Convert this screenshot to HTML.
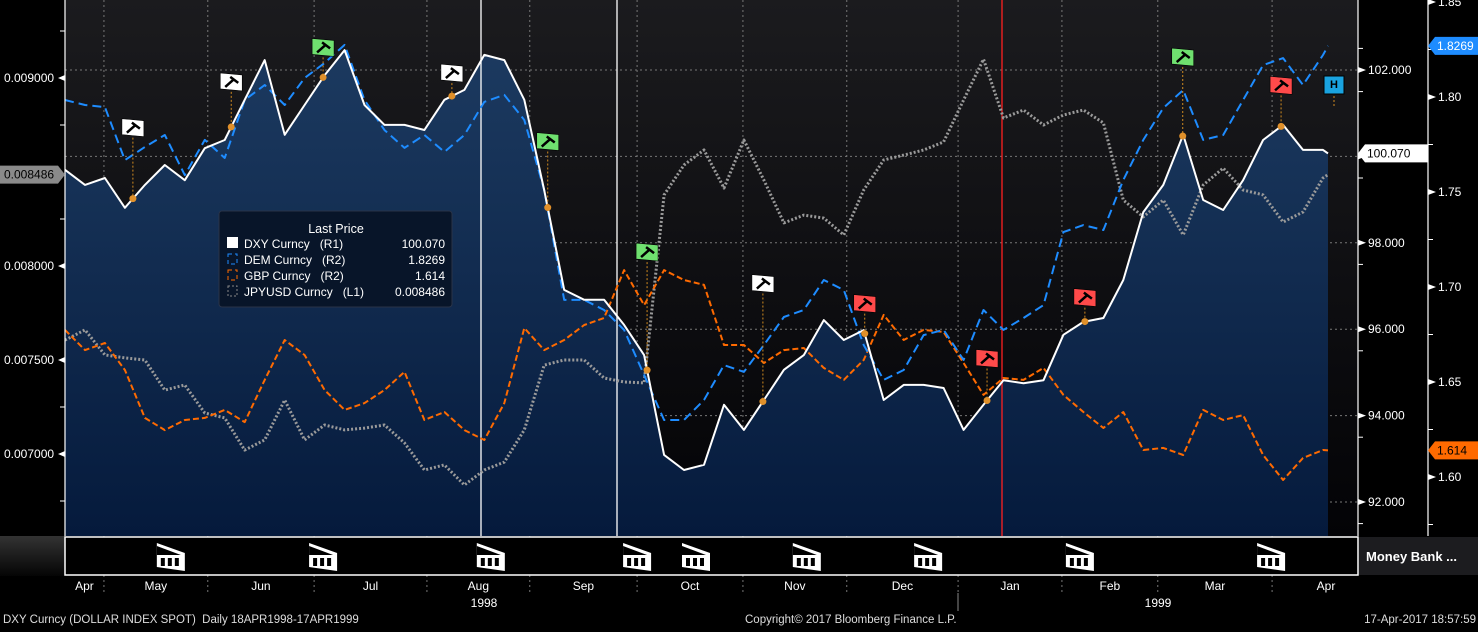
<!DOCTYPE html>
<html><head><meta charset="utf-8">
<style>
html,body{margin:0;padding:0;background:#000;}
body{width:1478px;height:627px;overflow:hidden;font-family:"Liberation Sans",sans-serif;}
svg text{font-family:"Liberation Sans",sans-serif;}
</style></head>
<body>
<svg id="chart" width="1478" height="627" viewBox="0 0 1478 627" xmlns="http://www.w3.org/2000/svg">
<defs>
<linearGradient id="bg" x1="0" y1="0" x2="0" y2="1"><stop offset="0" stop-color="#1b1b1e"/><stop offset="1" stop-color="#030306"/></linearGradient>
<linearGradient id="fill" x1="0" y1="0" x2="0" y2="1"><stop offset="0" stop-color="#1c3a60"/><stop offset="1" stop-color="#051a3c"/></linearGradient>
<linearGradient id="lbg" x1="0" y1="0" x2="0" y2="1"><stop offset="0" stop-color="#333"/><stop offset="1" stop-color="#050505"/></linearGradient>
</defs>
<rect x="0" y="0" width="1478" height="627" fill="#000"/>
<rect x="65" y="0" width="1293" height="536" fill="url(#bg)"/>
<rect x="0" y="536" width="65" height="40" fill="url(#lbg)"/>
<g id="grid"></g>
<path id="area" fill="url(#fill)"/>
<g id="vlines"></g>
<g id="series"></g>
<g id="flags"></g>
<g id="axes"></g>
<g>
<rect x="219" y="211" width="233" height="96" rx="3" fill="#081426" fill-opacity="0.92" stroke="#2a3448"/>
<text x="336" y="233" fill="#fff" font-size="12.5" text-anchor="middle">Last Price</text>
<rect x="227" y="237" width="11" height="11" fill="#fff"/>
<text x="244" y="248" fill="#fff" font-size="12" xml:space="preserve">DXY Curncy   (R1)</text><text x="445" y="248" fill="#fff" font-size="12" text-anchor="end">100.070</text>
<rect x="228" y="254" width="9" height="10" fill="none" stroke="#1e8cff" stroke-dasharray="4,3"/>
<text x="244" y="264" fill="#fff" font-size="12" xml:space="preserve">DEM Curncy   (R2)</text><text x="445" y="264" fill="#fff" font-size="12" text-anchor="end">1.8269</text>
<rect x="228" y="270" width="9" height="10" fill="none" stroke="#ff6a00" stroke-dasharray="4,3"/>
<text x="244" y="280" fill="#fff" font-size="12" xml:space="preserve">GBP Curncy   (R2)</text><text x="445" y="280" fill="#fff" font-size="12" text-anchor="end">1.614</text>
<rect x="228" y="286" width="9" height="10" fill="none" stroke="#888" stroke-dasharray="2,2"/>
<text x="244" y="296" fill="#fff" font-size="12" xml:space="preserve">JPYUSD Curncy   (L1)</text><text x="445" y="296" fill="#fff" font-size="12" text-anchor="end">0.008486</text>
</g>
<g>
<rect x="65" y="537" width="1293" height="38" fill="#000" stroke="#fff" stroke-width="1.5"/>
<g id="icons"></g>
</g>
<rect x="1359" y="537" width="119" height="38" fill="#1c1c1f"/>
<text x="1366" y="561" fill="#fff" font-size="13" font-weight="bold">Money Bank ...</text>
<g id="xlabels"></g>
<text x="484" y="607" fill="#fff" font-size="12" text-anchor="middle">1998</text>
<text x="1158" y="607" fill="#fff" font-size="12" text-anchor="middle">1999</text>
<line x1="958" y1="593" x2="958" y2="611" stroke="#888"/>
<text x="3" y="623" fill="#ddd" font-size="11.5" xml:space="preserve">DXY Curncy (DOLLAR INDEX SPOT)  Daily 18APR1998-17APR1999</text>
<text x="745" y="623" fill="#ddd" font-size="11.5">Copyright© 2017 Bloomberg Finance L.P.</text>
<text x="1476" y="623" fill="#ddd" font-size="11.5" text-anchor="end">17-Apr-2017 18:57:59</text>
</svg>
<script>
const days=[0,4,8,12,16,20,24,28,32,36,40,44,48,52,56,60,64,68,72,76,80,84,88,92,96,100,104,108,112,116,120,124,128,132,136,140,144,148,152,156,160,164,168,172,176,180,184,188,192,196,200,204,208,212,216,220,224,228,232,236,240,244,248,252,253];
const dxy=[99.69,99.34,99.50,98.81,99.34,99.80,99.45,100.19,100.38,101.31,102.23,100.50,101.19,101.88,102.46,101.19,100.73,100.73,100.61,101.31,101.54,102.35,102.23,101.31,99.22,96.91,96.68,96.68,96.10,95.40,93.09,92.74,92.86,94.25,93.67,94.36,95.06,95.40,96.21,95.75,95.98,94.36,94.71,94.71,94.64,93.67,94.25,94.82,94.75,94.82,95.87,96.17,96.26,97.14,98.71,99.34,100.50,98.99,98.76,99.45,100.38,100.73,100.15,100.15,100.07];
const dem=[1.7984,1.7958,1.7947,1.7668,1.7737,1.7800,1.7589,1.7774,1.7679,1.7984,1.8063,1.7958,1.8100,1.8179,1.8274,1.7984,1.7826,1.7732,1.7800,1.7711,1.7800,1.7974,1.8011,1.7879,1.7511,1.6932,1.6932,1.6879,1.6774,1.6537,1.6300,1.6300,1.6405,1.6589,1.6553,1.6695,1.6842,1.6879,1.7037,1.6984,1.6695,1.6511,1.6563,1.6747,1.6774,1.6616,1.6879,1.6774,1.6837,1.6905,1.7289,1.7326,1.7300,1.7563,1.7774,1.7942,1.8037,1.7774,1.7800,1.7984,1.8168,1.8205,1.8063,1.8221,1.8269];
const gbp=[1.6774,1.6668,1.6705,1.6563,1.6311,1.6247,1.6300,1.6311,1.6353,1.6289,1.6511,1.6721,1.6642,1.6458,1.6353,1.6389,1.6458,1.6553,1.6300,1.6342,1.6247,1.6195,1.6389,1.6784,1.6668,1.6721,1.6800,1.6837,1.7089,1.6905,1.7089,1.7037,1.7011,1.6695,1.6695,1.6600,1.6668,1.6679,1.6574,1.6511,1.6616,1.6853,1.6721,1.6774,1.6763,1.6600,1.6432,1.6521,1.6511,1.6574,1.6432,1.6342,1.6258,1.6342,1.6142,1.6153,1.6116,1.6353,1.6300,1.6326,1.6116,1.5984,1.6100,1.6142,1.614];
const jpy=[0.007606,0.007660,0.007527,0.007511,0.007500,0.007340,0.007367,0.007218,0.007192,0.007021,0.007075,0.007287,0.007075,0.007154,0.007128,0.007138,0.007154,0.007059,0.006915,0.006942,0.006835,0.006915,0.006957,0.007128,0.007473,0.007500,0.007500,0.007404,0.007383,0.007378,0.008378,0.008537,0.008617,0.008415,0.008670,0.008457,0.008229,0.008271,0.008255,0.008165,0.008404,0.008564,0.008590,0.008617,0.008660,0.008883,0.009100,0.008787,0.008830,0.008750,0.008803,0.008830,0.008761,0.008351,0.008261,0.008351,0.008165,0.008431,0.008521,0.008404,0.008378,0.008234,0.008287,0.008468,0.008486];
const r1Ticks=[102,100,98,96,94,92];
const r1Labels=["102.000","100.000","98.000","96.000","94.000","92.000"];
const r2Ticks=[1.85,1.80,1.75,1.70,1.65,1.60];
const r2Labels=["1.85","1.80","1.75","1.70","1.65","1.60"];
const l1Ticks=[0.009,0.008,0.0075,0.007];
const l1Labels=["0.009000","0.008000","0.007500","0.007000"];
const monthNames=["Apr","May","Jun","Jul","Aug","Sep","Oct","Nov","Dec","Jan","Feb","Mar","Apr"];
const monthStartDays=[0,7.8,28.6,49.9,72.5,93.1,114.6,135.8,156.6,178.9,199.7,218.9,241.8];
const monthEndDay=263.4;
const flagDays=[13.6,33.3,51.7,77.5,96.7,116.6,139.8,160.2,184.7,204.3,223.9,243.6];
const flagColors=["#fff","#fff","#6fe06f","#fff","#6fe06f","#6fe06f","#fff","#ff4a4a","#ff4a4a","#ff4a4a","#6fe06f","#ff4a4a"];
const flagOffsets=[71,45,30,23,66,118,118,30,42,24,79,41];
const iconDays=[21.2,51.7,85.3,114.6,126.4,148.6,172.9,203.3,241.6];

const NS="http://www.w3.org/2000/svg";
const X0=65,W=1263,DMAX=253;
function xOf(d){return X0+d*W/DMAX;}
function yR1(v){return 70+(102-v)*43.2;}
function yR2(v){return 97+(1.80-v)*1900;}
function yL1(v){return 78+(0.009-v)*188000;}
function mk(tag,attrs,parent){const e=document.createElementNS(NS,tag);for(const k in attrs)e.setAttribute(k,attrs[k]);parent.appendChild(e);return e;}
function txt(s,attrs,parent){const e=mk('text',attrs,parent);e.textContent=s;return e;}
function interp(arr,d){for(let i=0;i<days.length-1;i++){if(d>=days[i]&&d<=days[i+1]){const t=(d-days[i])/(days[i+1]-days[i]);return arr[i]+(arr[i+1]-arr[i])*t;}}return arr[arr.length-1];}

const grid=document.getElementById('grid');
r1Ticks.forEach(v=>{const l=mk('line',{x1:65,x2:1358,y1:yR1(v),y2:yR1(v),stroke:'#777','stroke-dasharray':'2,3','stroke-width':1},grid);

});
monthStartDays.slice(1).forEach(d=>{const x=xOf(d);const l=mk('line',{x1:x,x2:x,y1:0,y2:595,stroke:'#777','stroke-dasharray':'2,3','stroke-width':1},grid);

});

let p='M'+xOf(days[0])+','+536;
days.forEach((d,i)=>{p+=' L'+xOf(d).toFixed(1)+','+yR1(dxy[i]).toFixed(1);});
p+=' L'+xOf(days[days.length-1])+',536 Z';
document.getElementById('area').setAttribute('d',p);

const vl=document.getElementById('vlines');
[[481,'#fff'],[617,'#fff'],[1002,'#ff2020']].forEach(([x,c])=>{const l=mk('line',{x1:x,x2:x,y1:0,y2:536,stroke:c,'stroke-width':1.3},vl);

});

const ser=document.getElementById('series');
function line(arr,yf,style,name){const pts=days.map((d,i)=>xOf(d).toFixed(1)+','+yf(arr[i]).toFixed(1)).join(' ');
const e=mk('polyline',Object.assign({points:pts,fill:'none','stroke-linejoin':'round'},style),ser);

}
line(jpy,yL1,{stroke:'#9a9a9a','stroke-width':3,'stroke-dasharray':'2,2'},'jpyusd-line');
line(gbp,yR2,{stroke:'#ff6a00','stroke-width':2,'stroke-dasharray':'6,3'},'gbp-line');
line(dem,yR2,{stroke:'#1e8cff','stroke-width':2,'stroke-dasharray':'9,5'},'dem-line');
line(dxy,yR1,{stroke:'#fff','stroke-width':2},'dxy-line');

const fl=document.getElementById('flags');
flagDays.forEach((d,i)=>{const x=xOf(d),y=yR1(interp(dxy,d));const fy=y-flagOffsets[i];
const g=mk('g',{},fl);


mk('line',{x1:x,x2:x,y1:fy+10,y2:y,stroke:'#d08a20','stroke-dasharray':'2,2'},g);
mk('circle',{cx:x,cy:y,r:3.5,fill:'#e0902a'},g);
mk('polygon',{points:(x-11)+','+(fy-9)+' '+(x+11)+','+(fy-7)+' '+(x+11)+','+(fy+9)+' '+(x-11)+','+(fy+7),fill:flagColors[i],stroke:'#000','stroke-width':0.6},g);
mk('path',{d:'M'+(x-6)+','+(fy+5)+' L'+(x+3)+','+(fy-3)+' M'+(x-1)+','+(fy-5)+' L'+(x+7)+','+(fy+1),stroke:'#000','stroke-width':2.5,fill:'none'},g);});
{const hx=1334,hy=76;const g=mk('g',{},fl);


mk('rect',{x:hx-10,y:hy,width:20,height:18,fill:'#1aa3e0',stroke:'#000'},g);
txt('H',{x:hx,y:hy+12,'font-size':11,fill:'#000','text-anchor':'middle','font-weight':'bold'},g);
mk('line',{x1:hx,x2:hx,y1:hy+20,y2:hy+30,stroke:'#d08a20','stroke-dasharray':'2,2'},g);}

const ax=document.getElementById('axes');
mk('line',{x1:65,x2:65,y1:0,y2:536,stroke:'#fff','stroke-width':1.2},ax);
mk('line',{x1:1358,x2:1358,y1:0,y2:536,stroke:'#fff','stroke-width':1.2},ax);
mk('line',{x1:1428,x2:1428,y1:0,y2:536,stroke:'#fff','stroke-width':1.2},ax);
r1Ticks.forEach((v,i)=>{const y=yR1(v);mk('polygon',{points:'1358,'+(y-3)+' 1366,'+y+' 1358,'+(y+3),fill:'#fff'},ax);
const t=txt(r1Labels[i],{x:1368,y:y+4,'font-size':12,fill:'#fff'},ax);


mk('line',{x1:1358,x2:1363,y1:y+21.6,y2:y+21.6,stroke:'#fff'},ax);});
mk('line',{x1:1358,x2:1363,y1:yR1(102)-21.6,y2:yR1(102)-21.6,stroke:'#fff'},ax);
r2Ticks.forEach((v,i)=>{const y=yR2(v);mk('polygon',{points:'1428,'+(y-3)+' 1436,'+y+' 1428,'+(y+3),fill:'#fff'},ax);
const t=txt(r2Labels[i],{x:1438,y:y+4,'font-size':12,fill:'#fff'},ax);


mk('line',{x1:1428,x2:1433,y1:y+47.5,y2:y+47.5,stroke:'#fff'},ax);});
l1Ticks.forEach((v,i)=>{const y=yL1(v);mk('polygon',{points:'65,'+(y-3)+' 58,'+y+' 65,'+(y+3),fill:'#fff'},ax);
const t=txt(l1Labels[i],{x:4,y:y+4,'font-size':12,fill:'#fff'},ax);

});
[0.00925,0.00875,0.00825,0.00725,0.00675].forEach(v=>{const y=yL1(v);mk('line',{x1:60,x2:65,y1:y,y2:y,stroke:'#fff'},ax);});
function tag(x,y,w,bg,fg,s,name,dir){const g=mk('g',{},ax);


if(dir>0){mk('polygon',{points:x+','+y+' '+(x+7)+','+(y-9)+' '+(x+w)+','+(y-9)+' '+(x+w)+','+(y+9)+' '+(x+7)+','+(y+9),fill:bg},g);txt(s,{x:x+9,y:y+4,'font-size':12,fill:fg},g);}
else{mk('polygon',{points:x+','+y+' '+(x-7)+','+(y-9)+' '+(x-w)+','+(y-9)+' '+(x-w)+','+(y+9)+' '+(x-7)+','+(y+9),fill:bg},g);txt(s,{x:x-w+4,y:y+4,'font-size':12,fill:fg},g);}}
tag(1358,yR1(dxy[dxy.length-1]),70,'#fff','#000','100.070','dxy-last-tag',1);
tag(1428,yR2(dem[dem.length-1]),50,'#1e8cff','#fff','1.8269','dem-last-tag',1);
tag(1428,yR2(gbp[gbp.length-1]),50,'#ff6a00','#000','1.614','gbp-last-tag',1);
tag(65,yL1(jpy[jpy.length-1]),65,'#8a8a8a','#000','0.008486','jpy-last-tag',-1);

const xl=document.getElementById('xlabels');
monthNames.forEach((m,i)=>{const a=monthStartDays[i];const b=i<monthNames.length-1?monthStartDays[i+1]:monthEndDay;
const x=xOf((a+b)/2);
const t=txt(m,{x:x,y:590,'font-size':12,fill:'#fff','text-anchor':'middle'},xl);

});

const ic=document.getElementById('icons');
iconDays.forEach(d=>{const x=xOf(d);const g=mk('g',{},ic);


mk('polygon',{points:(x-14)+',543 '+(x+14)+',553 '+(x+14)+',571 '+(x-14)+',567',fill:'#fff'},g);
mk('polygon',{points:(x-14)+',546 '+(x+10)+',555 '+(x-14)+',555',fill:'#000'},g);
[-10,-3,4].forEach(o=>mk('rect',{x:x+o,y:558,width:4,height:8,fill:'#000'},g));});
</script>
</body></html>
